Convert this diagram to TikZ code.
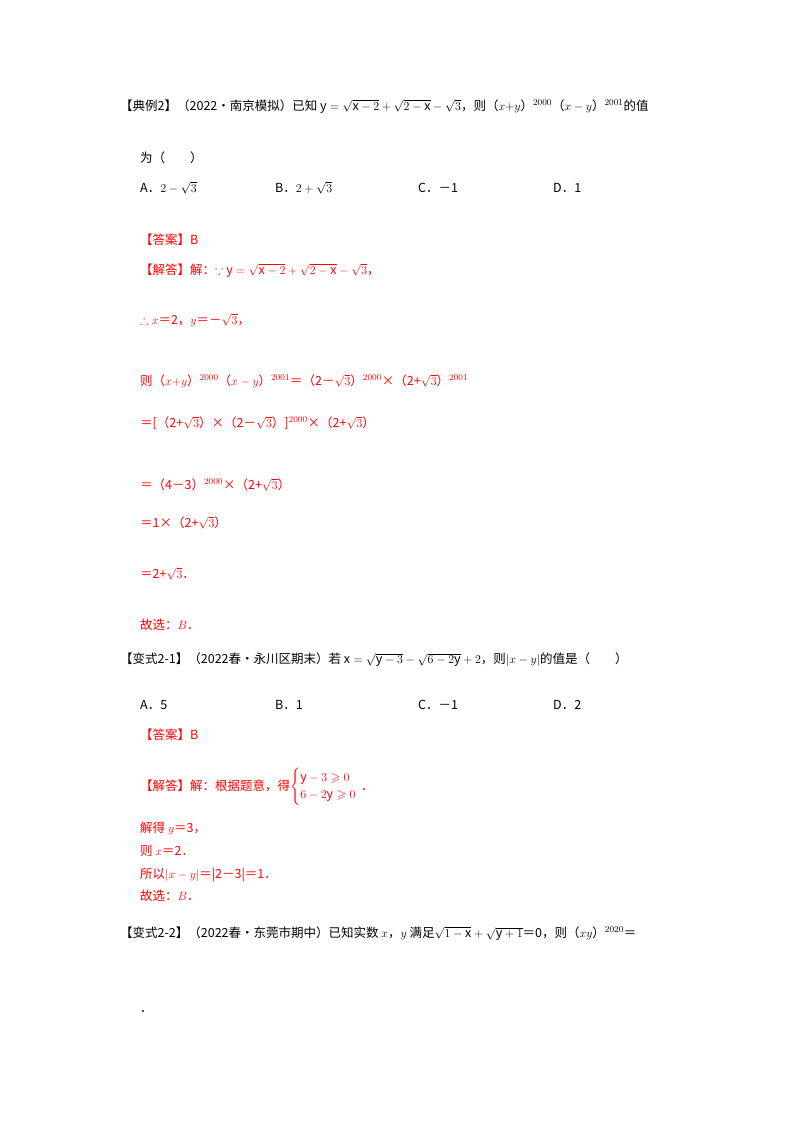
\documentclass[tikz,border=0pt]{standalone}
\usepackage{amsmath,amssymb}
\usepackage{fontspec}
\setmainfont{Noto Sans CJK SC}
\begin{document}
\begin{tikzpicture}[x=1pt,y=-1pt,
  txt/.style={anchor=base west,inner sep=0pt,font=\fontsize{12.5}{14}\selectfont},
  red/.style={txt,text={rgb,255:red,255;green,0;blue,0}}]
\useasboundingbox (0,0) rectangle (800,1132);
\node[txt] (l1) at (120,110) {【典例2】（2022•南京模拟）已知 $\mathrm{y}=\sqrt{\mathrm{x}-2}+\sqrt{2-\mathrm{x}}-\sqrt{3}$，则（$x{+}y$）$^{2000}$（$x-y$）$^{2001}$的值};
\node[txt] (l2) at (140,162) {为（\quad\quad）};
\node[txt] (a1) at (140,192) {A．$2-\sqrt{3}$};
\node[txt] (b1) at (275,192) {B．$2+\sqrt{3}$};
\node[txt] (c1) at (418,192) {C．－1};
\node[txt] (d1) at (553,192) {D．1};
\node[red] (r1) at (140,244) {【答案】B};
\node[red] (r2) at (140,274) {【解答】解：$\because$ $\mathrm{y}=\sqrt{\mathrm{x}-2}+\sqrt{2-\mathrm{x}}-\sqrt{3}$，};
\node[red] (r3) at (140,324) {$\therefore x$＝2，$y$＝－$\sqrt{3}$，};
\node[red] (r4) at (140,385) {则（$x{+}y$）$^{2000}$（$x-y$）$^{2001}$＝（2－$\sqrt{3}$）$^{2000}$×（2+$\sqrt{3}$）$^{2001}$};
\node[red] (r5) at (140,427) {＝[（2+$\sqrt{3}$）×（2－$\sqrt{3}$）]$^{2000}$×（2+$\sqrt{3}$）};
\node[red] (r6) at (140,489) {＝（4－3）$^{2000}$×（2+$\sqrt{3}$）};
\node[red] (r7) at (140,527) {＝1×（2+$\sqrt{3}$）};
\node[red] (r8) at (140,578) {＝2+$\sqrt{3}$．};
\node[red] (r9) at (140,629) {故选：$B$．};
\node[txt] (v1) at (120,663) {【变式2-1】（2022春•永川区期末）若 $\mathrm{x}=\sqrt{\mathrm{y}-3}-\sqrt{6-2\mathrm{y}}+2$，则$|x-y|$的值是（\quad\quad）};
\node[txt] (a2) at (140,709) {A．5};
\node[txt] (b2) at (275,709) {B．1};
\node[txt] (c2) at (418,709) {C．－1};
\node[txt] (d2) at (553,709) {D．2};
\node[red] (s1) at (140,739) {【答案】B};
\node[red] (s2) at (140,790) {【解答】解：根据题意，得$\begin{cases}\mathrm{y}-3\geqslant 0\\ 6-2\mathrm{y}\geqslant 0\end{cases}$\hspace{-8pt}．};
\node[red] (s3) at (140,832) {解得 $y$＝3，};
\node[red] (s4) at (140,855) {则 $x$＝2．};
\node[red] (s5) at (140,878) {所以$|x-y|$＝|2－3|＝1．};
\node[red] (s6) at (140,900) {故选：$B$．};
\node[txt] (w1) at (120,937) {【变式2-2】（2022春•东莞市期中）已知实数 $x$，$y$ 满足$\sqrt{1-\mathrm{x}}+\sqrt{\mathrm{y}+1}$＝0，则（$xy$）$^{2020}$＝};
\node[txt] (w2) at (140,1012) {．};
\end{tikzpicture}
\end{document}
